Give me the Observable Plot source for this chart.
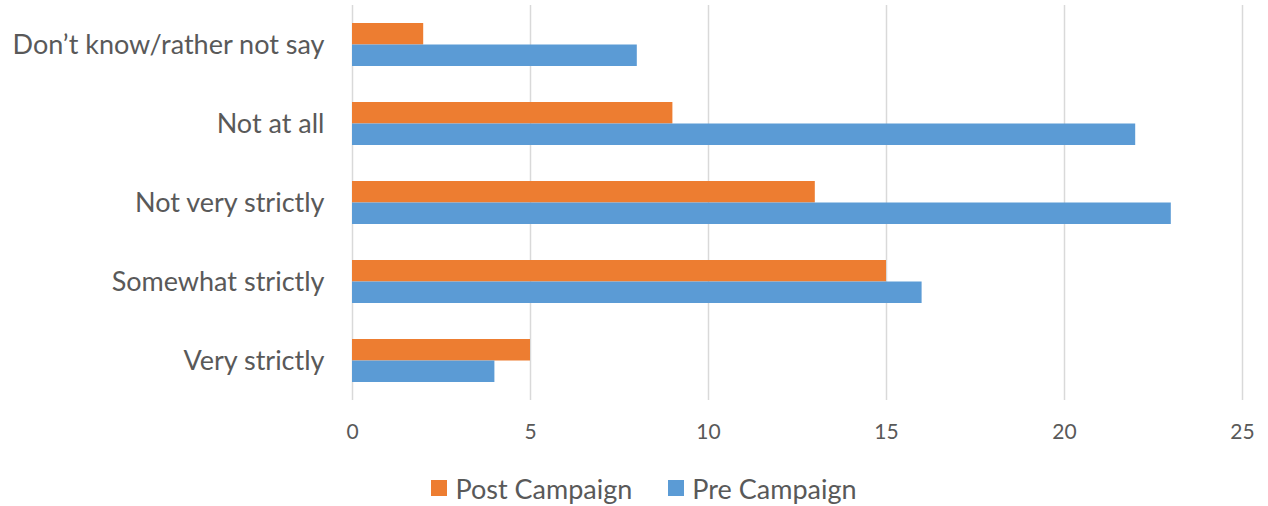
<!DOCTYPE html>
<html>
<head>
<meta charset="utf-8">
<script src="https://cdn.jsdelivr.net/npm/d3@7"></script>
<script src="https://cdn.jsdelivr.net/npm/@observablehq/plot@0.6"></script>
<style>
  html, body { margin: 0; padding: 0; background: #fff; }
  body { width: 1268px; height: 506px; overflow: hidden; font-family: Lato, "Open Sans", sans-serif; }
  #legend { display: flex; justify-content: center; align-items: center; height: 44px; color: #595959; font-size: 27px; margin-left: 20px; }
  .item { display: flex; align-items: center; margin: 0 18px; }
  .sw { width: 16px; height: 16px; margin-right: 8px; display: inline-block; }
</style>
</head>
<body>
<div id="chart"></div>
<div id="legend"></div>
<script>
const categories = ["Don’t know/rather not say", "Not at all", "Not very strictly", "Somewhat strictly", "Very strictly"];
const series = ["Post Campaign", "Pre Campaign"];
const postValues = [2, 9, 13, 15, 5];
const preValues = [8, 22, 23, 16, 4];
const xTicks = [0, 5, 10, 15, 20, 25];
const colors = ["#ED7D31", "#5B9BD5"];

const post = categories.map((c, i) => ({category: c, value: postValues[i]}));
const pre = categories.map((c, i) => ({category: c, value: preValues[i]}));

const plot = Plot.plot({
  width: 1268,
  height: 466,
  marginLeft: 352,
  marginRight: 26,
  marginTop: 5,
  marginBottom: 66,
  style: {fontFamily: "Lato, 'Open Sans', sans-serif", color: "#595959", background: "#fff"},
  x: {domain: [0, 25], axis: null, label: null},
  y: {domain: categories, paddingInner: 0.456, paddingOuter: 0.228, label: null},
  marks: [
    Plot.gridX(xTicks, {stroke: "#d9d9d9", strokeOpacity: 1, strokeWidth: 1.5}),
    Plot.barX(post, {y: "category", x: "value", fill: colors[0], insetBottom: 21.5, insetTop: 0}),
    Plot.barX(pre, {y: "category", x: "value", fill: colors[1], insetTop: 21.5, insetBottom: 0}),
    Plot.text(xTicks, {x: d => d, frameAnchor: "bottom", lineAnchor: "middle", dy: 32, fontSize: 21, fill: "#595959"}),
    Plot.axisY({tickSize: 0, tickPadding: 28, fontSize: 27, fill: "#595959"})
  ]
});
document.getElementById("chart").appendChild(plot);

const legend = document.getElementById("legend");
series.forEach((s, i) => {
  const item = document.createElement("div");
  item.className = "item";
  const sw = document.createElement("span");
  sw.className = "sw";
  sw.style.background = colors[i];
  item.appendChild(sw);
  item.appendChild(document.createTextNode(s));
  legend.appendChild(item);
});
</script>
</body>
</html>
